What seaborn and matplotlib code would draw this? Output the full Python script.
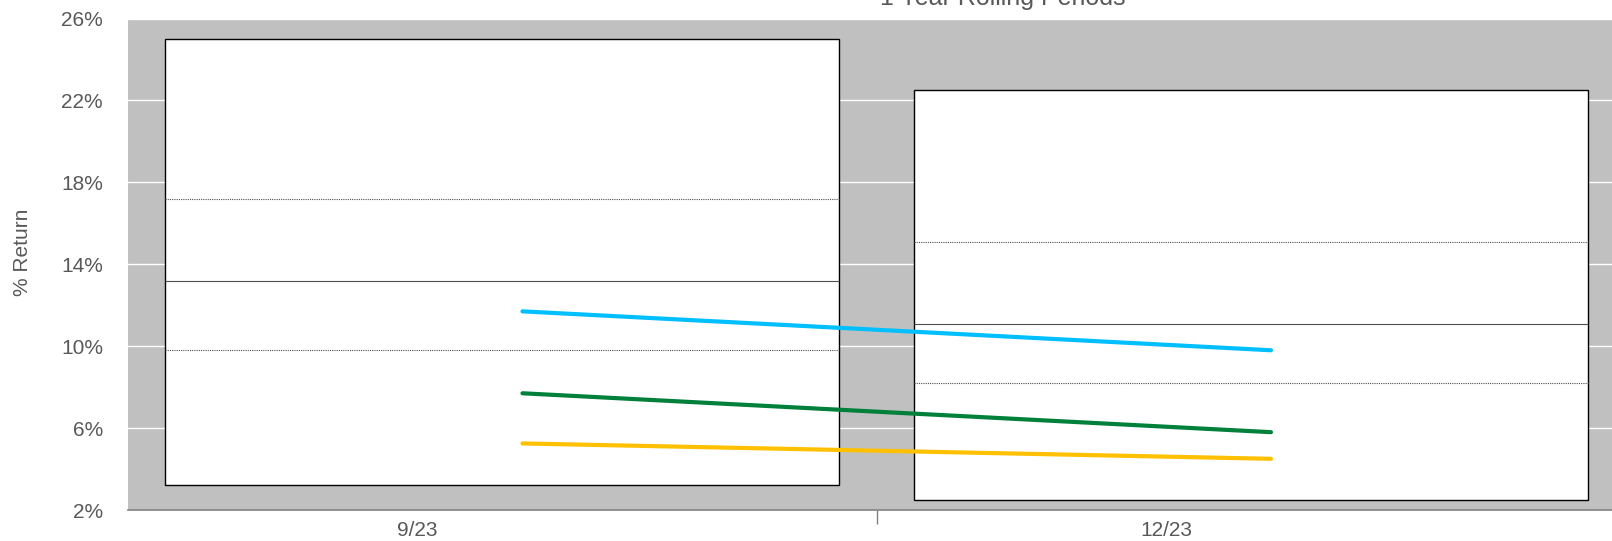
"""
1 Year Rolling Periods - floating range bars with quartile lines and return lines.
"""

import numpy as np
import pandas as pd
import matplotlib
matplotlib.use("Agg")
import matplotlib.pyplot as plt
import seaborn as sns

# Data
PERIODS = ["9/23", "12/23"]
RANGE_LOW = [3.2, 2.5]
RANGE_HIGH = [25.0, 22.5]
P25 = [9.8, 8.2]
MEDIAN = [13.2, 11.1]
P75 = [17.2, 15.1]

SERIES_A = [11.7, 9.8]   # light blue
SERIES_B = [7.7, 5.8]    # green
SERIES_C = [5.25, 4.5]   # gold

Y_TICKS = [2, 6, 10, 14, 18, 22, 26]

TEXT_COLOR = "#595959"
BG_COLOR = "#C0C0C0"
LINE_COLORS = ["#00BFFF", "#00803A", "#FFC000"]

sns.set_theme(style="white")
plt.rcParams["font.family"] = ["Liberation Sans", "DejaVu Sans"]

fig = plt.figure(figsize=(16.12, 5.41), dpi=100)
# plot area runs a little past the right edge of the picture, as in the original
ax = fig.add_axes([128 / 1612, 31 / 541, (1625 - 128) / 1612, (510 - 18.5) / 541])
ax.set_facecolor(BG_COLOR)

pos = np.arange(len(PERIODS))
heights = np.array(RANGE_HIGH) - np.array(RANGE_LOW)

sns.barplot(x=pos, y=heights, bottom=RANGE_LOW, native_scale=True, width=0.9,
            color="white", edgecolor="black", linewidth=1.0, saturation=1,
            ax=ax, zorder=2)

# quartile lines inside each box
half = 0.45
ax.hlines(P75, pos - half, pos + half, colors="#505050", linewidth=0.8,
          linestyles=(0, (1, 1)), zorder=3)
ax.hlines(MEDIAN, pos - half, pos + half, colors="#505050", linewidth=0.8,
          zorder=3)
ax.hlines(P25, pos - half, pos + half, colors="#505050", linewidth=0.8,
          linestyles=(0, (1, 1)), zorder=3)

# return lines (offset slightly right of category centers, as in original)
line_x = pos + 0.027
lines = pd.DataFrame({
    "x": np.tile(line_x, 3),
    "y": SERIES_A + SERIES_B + SERIES_C,
    "series": ["A"] * 2 + ["B"] * 2 + ["C"] * 2,
})
sns.lineplot(data=lines, x="x", y="y", hue="series", palette=LINE_COLORS,
             linewidth=3, legend=False, ax=ax, zorder=4,
             solid_capstyle="round")

# axes
ax.set_xlim(-0.5, len(PERIODS) - 0.5)
ax.set_ylim(Y_TICKS[0], Y_TICKS[-1])
ax.set_yticks(Y_TICKS)
ax.set_yticklabels([f"{t}%" for t in Y_TICKS])
ax.yaxis.grid(True, color="white", linewidth=1.0, zorder=0)
ax.set_axisbelow(True)

ax.set_xticks(pos[:-1] + 0.5)
ax.set_xticklabels([])
ax.set_xticks(pos - 0.113, minor=True)
ax.set_xticklabels(PERIODS, minor=True)
ax.tick_params(axis="x", which="major", length=10, width=1, color="#808080",
               direction="out", bottom=True)
ax.tick_params(axis="x", which="minor", length=0, pad=8, labelsize=15,
               labelcolor=TEXT_COLOR)
ax.tick_params(axis="y", length=0, pad=18, labelsize=15, labelcolor=TEXT_COLOR)
ax.set_xlabel("")
ax.set_ylabel("")

for side in ["top", "right", "left"]:
    ax.spines[side].set_visible(False)
ax.spines["bottom"].set_color("#808080")
ax.spines["bottom"].set_linewidth(1.2)

fig.text(23 / 1612, 1 - 252 / 541, "% Return", rotation=90, ha="center",
         va="center", fontsize=15, color=TEXT_COLOR)
fig.text(1003 / 1612, 1 - 5 / 541, "1 Year Rolling Periods", ha="center",
         va="baseline", fontsize=18, color=TEXT_COLOR)

fig.savefig("out.png", dpi=100)
plt.close(fig)
